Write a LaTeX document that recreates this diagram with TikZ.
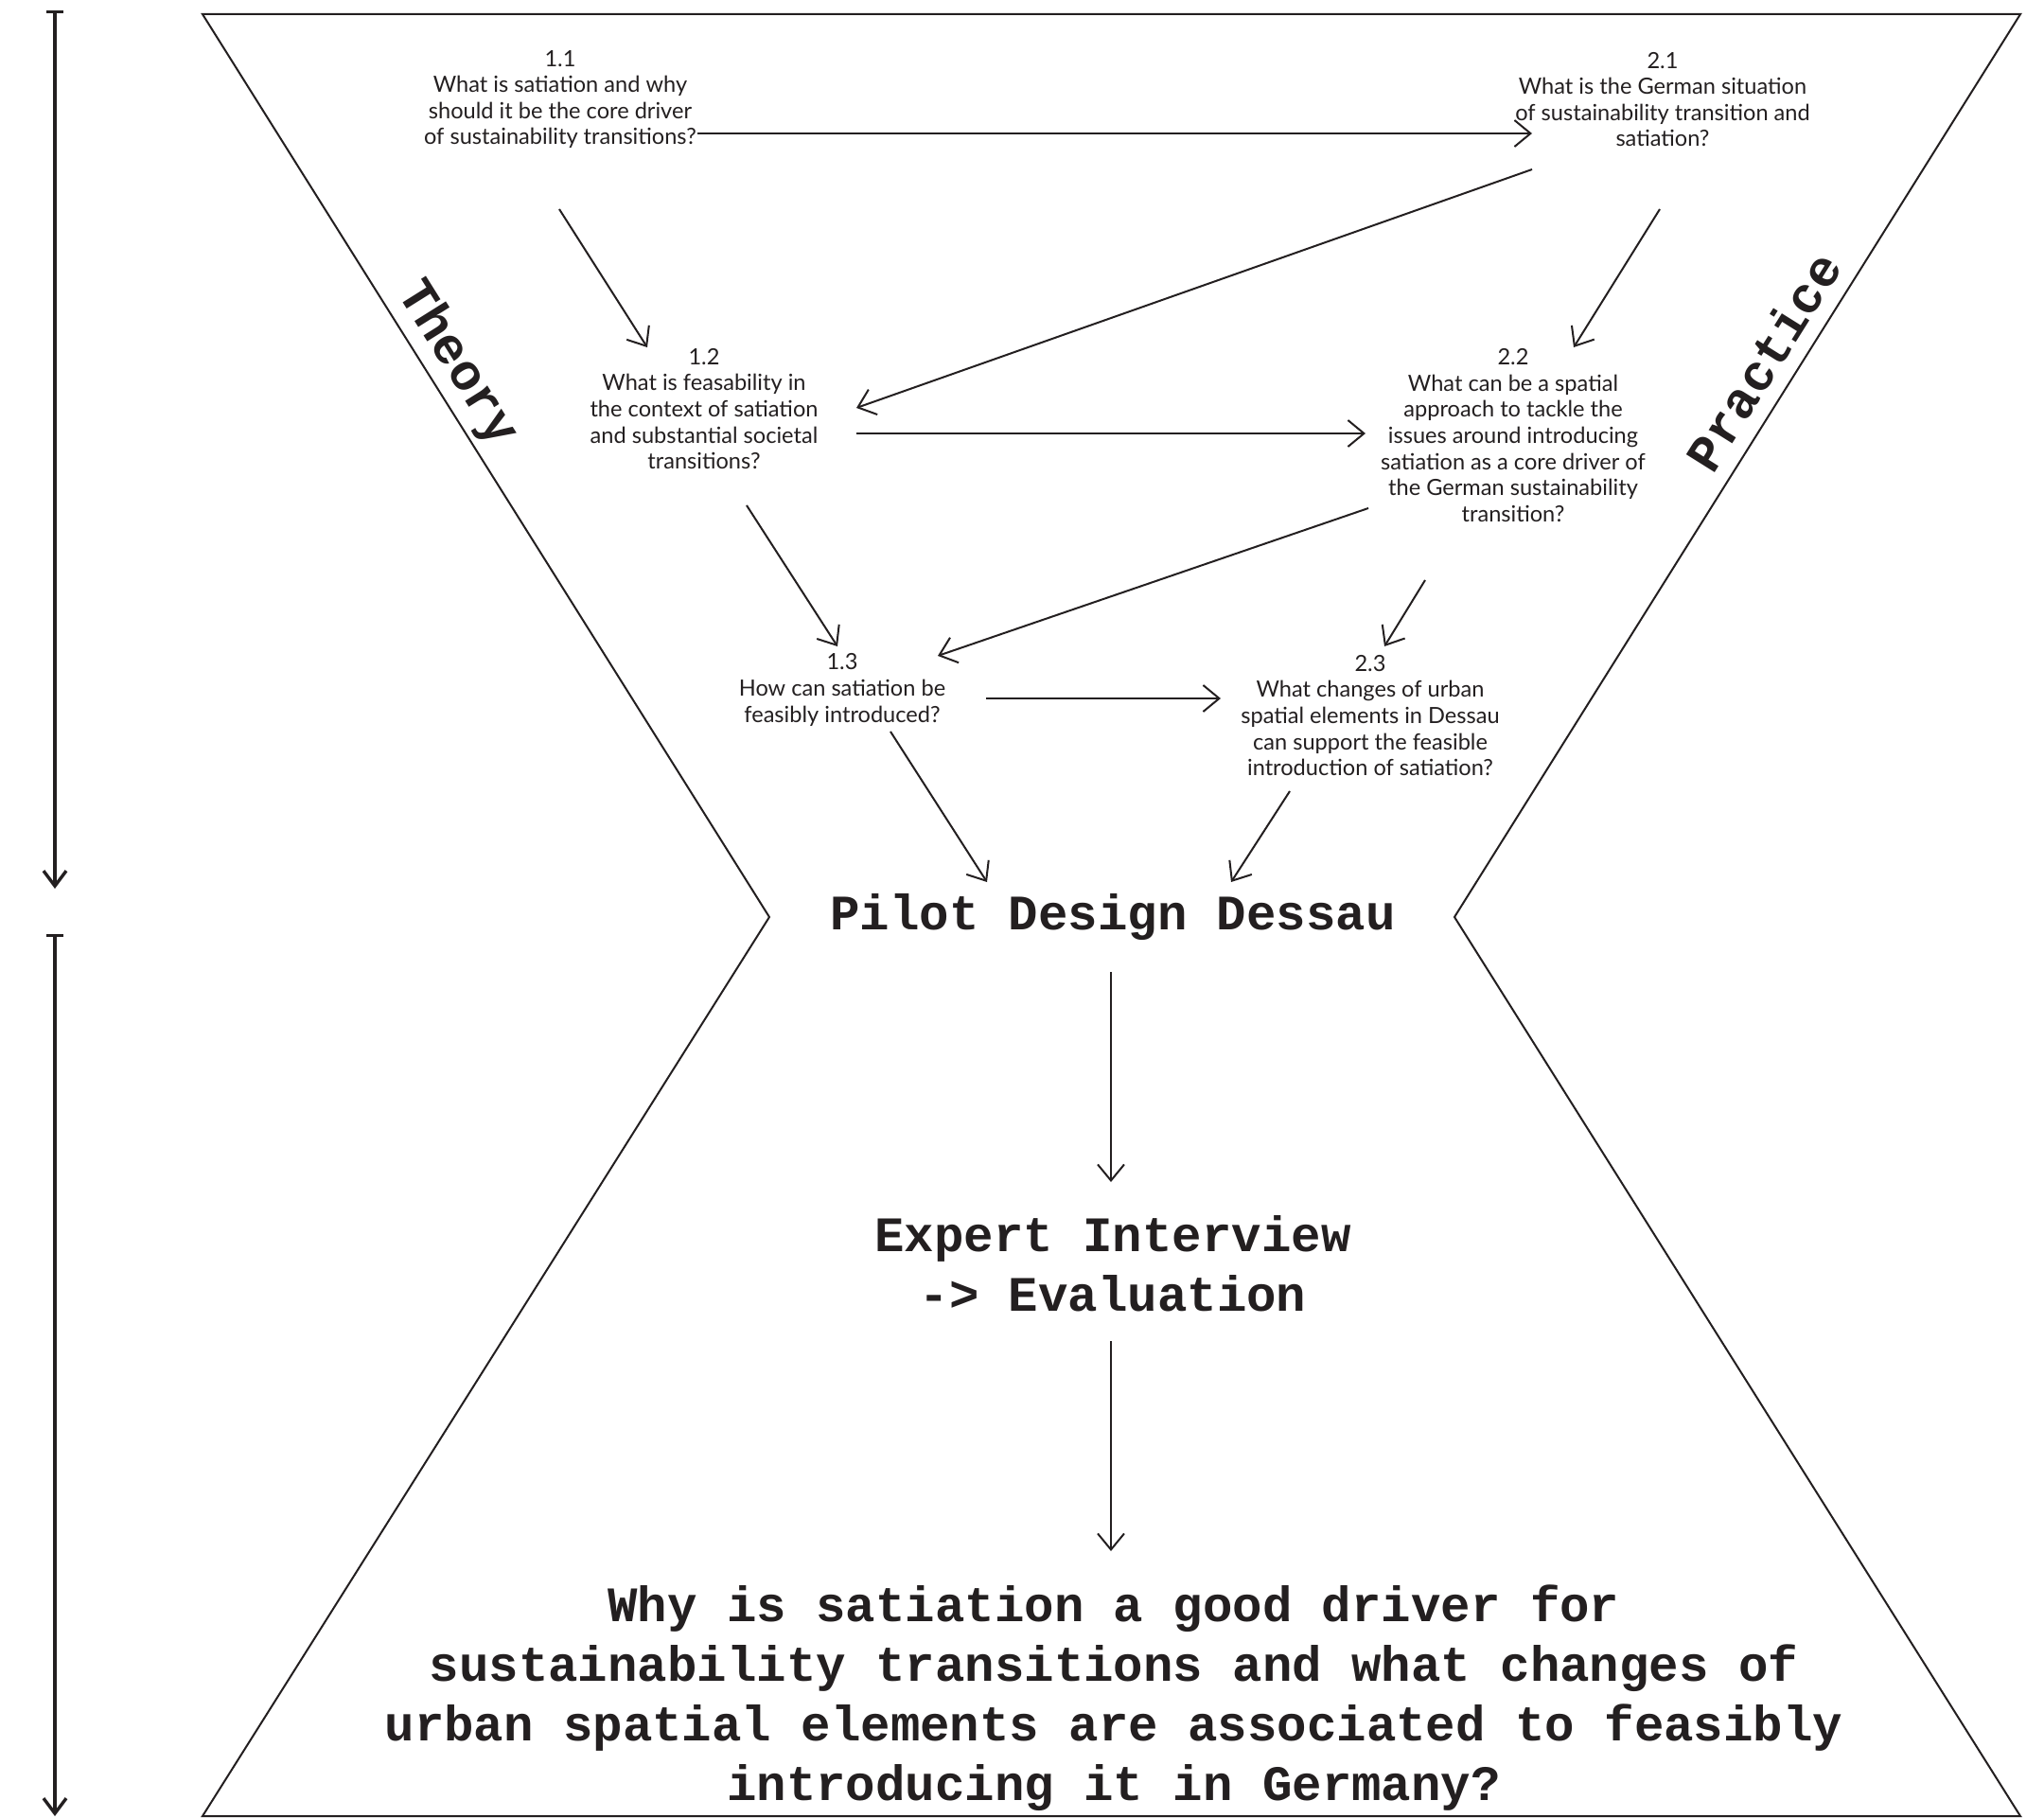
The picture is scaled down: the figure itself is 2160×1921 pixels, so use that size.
\documentclass[tikz,border=0pt]{standalone}
\usepackage{fontspec}
\setmainfont{Lato}
\setmonofont{Liberation Mono}
\usetikzlibrary{arrows.meta,calc}
\definecolor{ink}{HTML}{231F20}
\begin{document}
\begin{tikzpicture}[x=0.5pt,y=-0.5pt,
  q/.style={align=center, font=\fontsize{11.8}{13.8}\selectfont, text=ink, inner sep=0pt},
  big/.style={align=center, font=\ttfamily\bfseries\fontsize{26.2}{31.5}\selectfont, text=ink, inner sep=0pt},
  side/.style={font=\ttfamily\bfseries\fontsize{27}{30}\selectfont, text=ink, inner sep=0pt},
  arr/.style={draw=ink, line width=1pt, -{Straight Barb[length=8.5pt,width=14pt,line width=1pt]}},
  frame/.style={draw=ink, line width=1pt, line join=miter},
  tline/.style={draw=ink, line width=1.7pt, {Bar[width=9pt,line width=1.7pt]}-{Straight Barb[length=8pt,width=12pt,line width=1.7pt]}}
]
\useasboundingbox (0,0) rectangle (2160,1921);
% hourglass frame
\draw[frame] (214,15) -- (2135,15) -- (1537,969) -- (2135,1919) -- (214,1919) -- (813,969) -- cycle;
% timeline
\coordinate (t1a) at (58,11);
\coordinate (t1b) at (58,939);
\coordinate (t2a) at (58,987);
\coordinate (t2b) at (58,1919);
\draw[tline] (t1a) -- (t1b);
\draw[tline] (t2a) -- (t2b);
% side labels
\node[side, rotate=-57.9] (theory) at (483,384) {Theory};
\node[side, rotate=57.9] (practice) at (1863,382) {Practice};
% questions
\node[q] (n11) at (592,105) {1.1\\What is satiation and why\\should it be the core driver\\of sustainability transitions?};
\node[q] (n21) at (1757,105) {2.1\\What is the German situation\\of sustainability transition and\\satiation?};
\node[q] (n12) at (744,432) {1.2\\What is feasability in\\the context of satiation\\and substantial societal\\transitions?};
\node[q] (n22) at (1599,460) {2.2\\What can be a spatial\\approach to tackle the\\issues around introducing\\satiation as a core driver of\\the German sustainability\\transition?};
\node[q] (n13) at (890,729) {1.3\\How can satiation be\\feasibly introduced?};
\node[q] (n23) at (1448,756) {2.3\\What changes of urban\\spatial elements in Dessau\\can support the feasible\\introduction of satiation?};
\node[big] (pilot) at (1176,969) {Pilot Design Dessau};
\node[big] (expert) at (1176,1335) {Expert Interview\\-> Evaluation};
\node[big] (quest) at (1177,1794) {Why is satiation a good driver for\\sustainability transitions and what changes of\\urban spatial elements are associated to feasibly\\introducing it in Germany?};
% connectors
\draw[arr] ($(n11)+(145,36)$) -- ($(n21)+(-138,36)$);
\draw[arr] ($(n21)+(-138,74)$) -- ($(n12)+(161,-1)$);
\draw[arr] ($(n11)+(-1,116)$) -- ($(n12)+(-60,-65)$);
\draw[arr] ($(n21)+(-3,116)$) -- ($(n22)+(64,-93)$);
\draw[arr] ($(n12)+(161,26)$) -- ($(n22)+(-156,-2)$);
\draw[arr] ($(n22)+(-153,77)$) -- ($(n13)+(101,-36)$);
\draw[arr] ($(n12)+(45,102)$) -- ($(n13)+(-5,-46)$);
\draw[arr] ($(n22)+(-93,153)$) -- ($(n23)+(15,-73)$);
\draw[arr] ($(n13)+(152,9)$) -- ($(n23)+(-158,-18)$);
\draw[arr] ($(n13)+(51,44)$) -- ($(pilot)+(-133,-37)$);
\draw[arr] ($(n23)+(-85,80)$) -- ($(pilot)+(125,-37)$);
\draw[arr] ($(pilot)+(-2,58)$) -- ($(expert)+(-2,-86)$);
\draw[arr] ($(expert)+(-2,82)$) -- ($(quest)+(-3,-155)$);
\end{tikzpicture}
\end{document}
